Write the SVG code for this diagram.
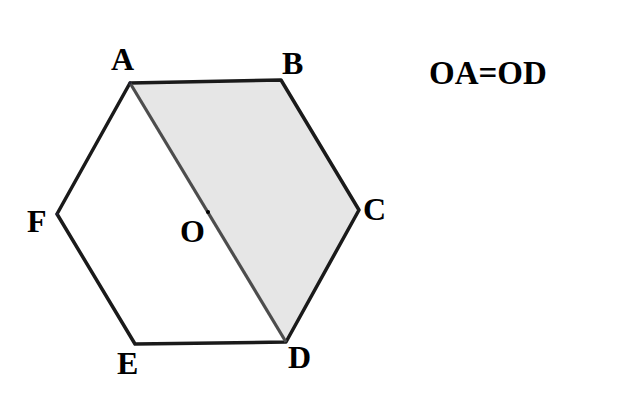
<svg xmlns="http://www.w3.org/2000/svg" width="618" height="415" viewBox="0 0 618 415">
<style>
.lbl{font-family:"Liberation Serif","Times New Roman",serif;font-weight:bold;font-size:32px;fill:#000}
.edge{stroke:#1a1a1a;stroke-width:3.5;fill:none;stroke-linecap:round;stroke-linejoin:round}
</style>
<rect width="618" height="415" fill="#fff"/>
<g id="shade"><polygon points="130,83 281,80 359,210 286,342" fill="#e6e6e6"/></g>
<g id="connectors">
<polyline class="edge" points="130,83 281,80 359,210 286,342 135,344 57,214 130,83"/>
<line x1="130" y1="83" x2="286" y2="342" stroke="#4d4d4d" stroke-width="3.2"/>
</g>
<g id="A"><circle cx="130" cy="83" r="1.5" fill="#223"/><text class="lbl" x="111" y="70">A</text></g>
<g id="B"><text class="lbl" x="282" y="74">B</text></g>
<g id="C"><text class="lbl" x="363" y="220">C</text></g>
<g id="D"><text class="lbl" x="288" y="368">D</text></g>
<g id="E"><text class="lbl" x="117" y="374">E</text></g>
<g id="F"><circle cx="57" cy="214" r="1.5" fill="#223"/><text class="lbl" x="27" y="232">F</text></g>
<g id="O"><circle cx="208" cy="212" r="2" fill="#000"/><text class="lbl" x="180" y="242">O</text></g>
<text class="lbl" x="429" y="84" style="font-size:33px">OA=OD</text>
</svg>
